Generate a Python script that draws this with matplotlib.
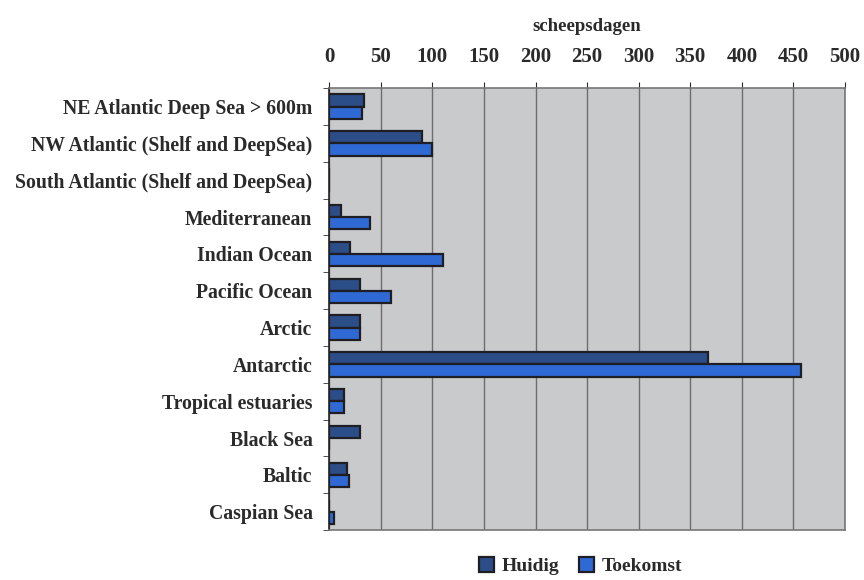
import matplotlib
matplotlib.use('Agg')
import matplotlib.pyplot as plt
import numpy as np

regions = [
    'NE Atlantic Deep Sea > 600m',
    'NW Atlantic (Shelf and DeepSea)',
    'South Atlantic (Shelf and DeepSea)',
    'Mediterranean',
    'Indian Ocean',
    'Pacific Ocean',
    'Arctic',
    'Antarctic',
    'Tropical estuaries',
    'Black Sea',
    'Baltic',
    'Caspian Sea',
]
huidig = [34, 90, 0, 11, 20, 30, 30, 367, 14, 30, 17, 0]
toekomst = [32, 100, 0, 40, 110, 60, 30, 457, 14, 0, 19, 5]
xticks = list(range(0, 501, 50))

plt.rcParams['font.family'] = ['Liberation Serif', 'DejaVu Serif']
plt.rcParams['font.weight'] = 'bold'

fig = plt.figure(figsize=(8.64, 5.8), dpi=100)
ax = fig.add_axes([0.381, 0.086, 0.597, 0.762])
ax.set_facecolor('#c9cacc')

y = np.arange(len(regions))
h = 0.33
ax.barh(y - h / 2, huidig, height=h, color='#2c4e88', edgecolor='#1e1e24',
        linewidth=1.6, label='Huidig', zorder=3)
ax.barh(y + h / 2, toekomst, height=h, color='#2f69d4', edgecolor='#1e1e24',
        linewidth=1.6, label='Toekomst', zorder=3)

ax.set_xlim(0, 500)
ax.set_ylim(len(regions) - 0.5, -0.5)
ax.set_xticks(xticks)
ax.xaxis.tick_top()
ax.xaxis.set_label_position('top')
ax.set_xlabel('scheepsdagen', fontsize=13.5, fontweight='bold', color='#2a2a2a',
              labelpad=12)
ax.tick_params(axis='x', labelsize=15, colors='#2a2a2a', length=4, pad=11)
ax.grid(axis='x', color='#6e6e6e', linewidth=1.0, zorder=1)

ax.set_yticks(y)
ax.set_yticklabels(regions, fontsize=14.2, color='#2a2a2a')
ax.tick_params(axis='y', length=0, pad=12)
ax.set_yticks(np.arange(len(regions) + 1) - 0.5, minor=True)
ax.tick_params(axis='y', which='minor', length=4, color='#333333')

for side in ['top', 'right', 'bottom']:
    ax.spines[side].set_color('#777777')
    ax.spines[side].set_linewidth(1.2)
ax.spines['left'].set_color('#222222')
ax.spines['left'].set_linewidth(1.2)

fig.legend(loc='lower center', bbox_to_anchor=(0.672, -0.022), ncol=2,
           frameon=False, fontsize=14, handlelength=0.75, handleheight=0.75,
           handletextpad=0.4, columnspacing=1.0, labelcolor='#2a2a2a')

fig.savefig('out.png', dpi=100)
